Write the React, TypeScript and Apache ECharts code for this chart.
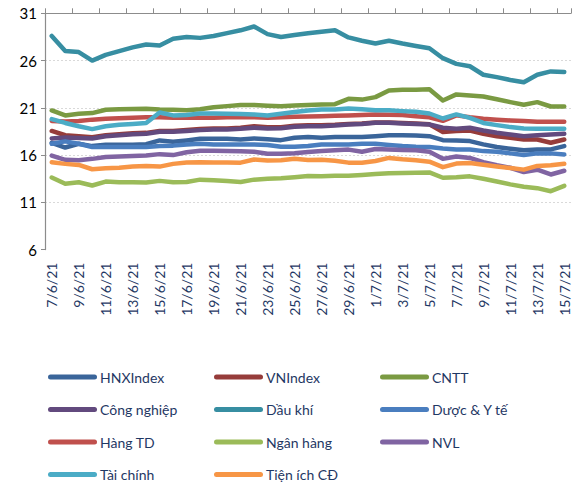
import React, { useEffect, useRef } from "react";
import * as echarts from "echarts";

const dates = [
  "7/6/21", "8/6/21", "9/6/21", "10/6/21", "11/6/21", "12/6/21", "13/6/21", "14/6/21", "15/6/21", "16/6/21",
  "17/6/21", "18/6/21", "19/6/21", "20/6/21", "21/6/21", "22/6/21", "23/6/21", "24/6/21", "25/6/21", "26/6/21",
  "27/6/21", "28/6/21", "29/6/21", "30/6/21", "1/7/21", "2/7/21", "3/7/21", "4/7/21", "5/7/21", "6/7/21",
  "7/7/21", "8/7/21", "9/7/21", "10/7/21", "11/7/21", "12/7/21", "13/7/21", "14/7/21", "15/7/21",
];

const hnxIndex = [17.3, 16.8, 17.2, 16.95, 17.1, 17.1, 17.1, 17.15, 17.55, 17.4, 17.55, 17.73, 17.73, 17.73, 17.65, 17.76, 17.68, 17.58, 17.83, 17.9, 17.83, 17.9, 17.92, 17.92, 18.0, 18.1, 18.1, 18.07, 18.0, 17.58, 17.55, 17.48, 17.13, 16.85, 16.67, 16.5, 16.6, 16.6, 16.95];
const vnIndex = [18.55, 18.1, 18.0, 17.9, 18.1, 18.2, 18.3, 18.35, 18.55, 18.55, 18.65, 18.75, 18.8, 18.8, 18.9, 19.06, 18.95, 18.95, 19.1, 19.15, 19.15, 19.2, 19.3, 19.35, 19.45, 19.45, 19.4, 19.35, 19.25, 18.45, 18.54, 18.6, 18.25, 18.0, 17.83, 17.65, 17.65, 17.3, 17.65];
const cntt = [20.72, 20.19, 20.37, 20.44, 20.79, 20.86, 20.88, 20.9, 20.82, 20.79, 20.75, 20.85, 21.07, 21.18, 21.3, 21.3, 21.22, 21.16, 21.24, 21.3, 21.35, 21.39, 21.95, 21.87, 22.13, 22.83, 22.9, 22.92, 22.97, 21.77, 22.42, 22.3, 22.2, 21.9, 21.6, 21.32, 21.6, 21.14, 21.14];
const congNghiep = [17.76, 17.85, 17.8, 17.76, 18.0, 18.1, 18.2, 18.25, 18.46, 18.46, 18.54, 18.64, 18.71, 18.71, 18.78, 18.89, 18.82, 18.85, 18.99, 19.06, 19.06, 19.13, 19.24, 19.3, 19.42, 19.42, 19.35, 19.3, 19.24, 18.89, 18.78, 18.89, 18.6, 18.36, 18.18, 18.0, 18.1, 18.18, 18.25];
const dauKhi = [28.6, 27.0, 26.9, 26.0, 26.6, 27.0, 27.4, 27.7, 27.6, 28.3, 28.5, 28.4, 28.6, 28.9, 29.2, 29.6, 28.8, 28.5, 28.7, 28.9, 29.05, 29.2, 28.45, 28.1, 27.8, 28.1, 27.8, 27.55, 27.3, 26.25, 25.65, 25.4, 24.5, 24.25, 23.95, 23.7, 24.5, 24.85, 24.8];
const duocYTe = [17.2, 17.45, 17.2, 16.85, 16.85, 16.85, 16.85, 16.85, 16.95, 17.0, 17.13, 17.2, 17.13, 17.13, 17.13, 17.13, 17.06, 16.88, 16.88, 16.95, 17.13, 17.13, 17.13, 17.2, 17.2, 17.06, 16.95, 16.88, 16.85, 16.7, 16.6, 16.6, 16.42, 16.35, 16.18, 16.0, 16.18, 16.18, 16.07];
const hangTD = [19.6, 19.55, 19.6, 19.75, 19.85, 19.9, 19.95, 20.0, 20.0, 19.95, 19.94, 19.95, 19.95, 20.0, 20.0, 20.0, 19.95, 20.0, 20.05, 20.08, 20.12, 20.15, 20.19, 20.23, 20.3, 20.28, 20.25, 20.12, 20.0, 19.62, 20.2, 20.0, 19.85, 19.75, 19.66, 19.6, 19.52, 19.52, 19.52];
const nganHang = [13.63, 12.96, 13.13, 12.78, 13.2, 13.13, 13.13, 13.1, 13.27, 13.13, 13.15, 13.4, 13.33, 13.25, 13.15, 13.4, 13.5, 13.55, 13.65, 13.78, 13.75, 13.82, 13.82, 13.9, 14.0, 14.07, 14.1, 14.12, 14.17, 13.6, 13.65, 13.75, 13.5, 13.2, 12.9, 12.65, 12.5, 12.18, 12.75];
const nvl = [15.95, 15.5, 15.45, 15.6, 15.8, 15.85, 15.9, 15.95, 16.1, 16.0, 16.3, 16.45, 16.45, 16.42, 16.4, 16.35, 16.14, 16.14, 16.2, 16.33, 16.42, 16.52, 16.58, 16.35, 16.65, 16.6, 16.55, 16.5, 16.36, 15.6, 15.84, 15.7, 15.25, 14.92, 14.66, 14.2, 14.45, 13.95, 14.34];
const taiChinh = [19.8, 19.4, 19.05, 18.75, 19.05, 19.2, 19.3, 19.4, 20.5, 20.2, 20.23, 20.4, 20.4, 20.37, 20.35, 20.3, 20.19, 20.37, 20.55, 20.72, 20.82, 20.82, 20.93, 20.85, 20.75, 20.75, 20.65, 20.58, 20.4, 19.87, 20.3, 19.94, 19.4, 19.17, 18.96, 18.82, 18.78, 18.78, 18.78];
const tienIch = [15.25, 15.07, 14.96, 14.5, 14.6, 14.67, 14.78, 14.85, 14.78, 15.07, 15.22, 15.25, 15.22, 15.22, 15.2, 15.53, 15.43, 15.46, 15.62, 15.48, 15.5, 15.4, 15.2, 15.2, 15.37, 15.7, 15.55, 15.45, 15.3, 14.72, 15.1, 15.16, 14.98, 14.8, 14.63, 14.46, 14.85, 14.92, 15.08];

const seriesNames = ["HNXIndex", "VNIndex", "CNTT", "Công nghiệp", "Dầu khí", "Dược & Y tế", "Hàng TD", "Ngân hàng", "NVL", "Tài chính", "Tiện ích CĐ"];
const seriesValues = [hnxIndex, vnIndex, cntt, congNghiep, dauKhi, duocYTe, hangTD, nganHang, nvl, taiChinh, tienIch];
const seriesColors = ["#3A659A", "#963C3A", "#7A9A42", "#624A7E", "#378EA2", "#4A7EBF", "#C0504D", "#9BBB59", "#8064A2", "#4BACC6", "#F79646"];

const legendColumns = [
  ["HNXIndex", "Công nghiệp", "Hàng TD", "Tài chính"],
  ["VNIndex", "Dầu khí", "Ngân hàng", "Tiện ích CĐ"],
  ["CNTT", "Dược & Y tế", "NVL"],
];
const legendLefts = [48, 214, 380];

const FONT = "Lato, 'Open Sans', sans-serif";
const NAVY = "#1F3864";

export default function App() {
  const ref = useRef<HTMLDivElement>(null);
  useEffect(() => {
    document.body.style.margin = "0";
    const chart = echarts.init(ref.current!, undefined, { renderer: "svg" });
    const capsule = "path://M2.5,0H46.5A2.5,2.5,0,0,1,46.5,5H2.5A2.5,2.5,0,0,1,2.5,0Z";
    chart.setOption({
      animation: false,
      backgroundColor: "#ffffff",
      grid: { left: 45, right: 11, top: 13.3, bottom: 234.4, containLabel: false },
      xAxis: [
        {
          type: "category",
          data: dates,
          position: "bottom",
          boundaryGap: true,
          axisLine: { show: false },
          axisTick: { show: false },
          splitLine: { show: false },
          axisLabel: {
            interval: 1,
            rotate: 90,
            margin: 13,
            color: NAVY,
            fontSize: 14,
            fontFamily: FONT,
          },
        },
        {
          type: "category",
          data: dates,
          position: "top",
          boundaryGap: true,
          axisLine: { show: true, lineStyle: { color: "#8C8C8C", width: 1.2 } },
          axisTick: { show: true, interval: 1, length: 5, lineStyle: { color: "#8C8C8C" } },
          axisLabel: { show: false },
          splitLine: { show: false },
        },
      ],
      yAxis: {
        type: "value",
        min: 6,
        max: 31,
        interval: 5,
        axisLine: { show: true, lineStyle: { color: "#8C8C8C", width: 1.2 } },
        axisTick: { show: true, length: 4, lineStyle: { color: "#8C8C8C" } },
        axisLabel: { color: "#000000", fontSize: 15, fontFamily: FONT, margin: 8 },
        splitLine: {
          show: true,
          showMinLine: false,
          showMaxLine: false,
          lineStyle: { color: "#D9D9D9", type: [2, 2], width: 1 },
        },
      },
      legend: legendColumns.map((col, k) => ({
        orient: "vertical",
        left: legendLefts[k],
        top: 369,
        height: 114,
        padding: 0,
        data: col,
        icon: capsule,
        itemWidth: 49,
        itemHeight: 5,
        itemGap: 16.5,
        selectedMode: false,
        textStyle: { color: NAVY, fontSize: 14, fontFamily: FONT, lineHeight: 16, padding: [0, 0, 0, -2] },
      })),
      series: seriesNames.map((name, i) => ({
        name,
        type: "line",
        xAxisIndex: 0,
        data: seriesValues[i],
        symbol: "none",
        color: seriesColors[i],
        itemStyle: { color: seriesColors[i] },
        lineStyle: { color: seriesColors[i], width: 4.5, cap: "round", join: "round" },
      })),
    });
    return () => chart.dispose();
  }, []);
  return (
    <div
      ref={ref}
      style={{ position: "absolute", left: 0, top: 0, width: 582, height: 484, background: "#fff" }}
    />
  );
}
